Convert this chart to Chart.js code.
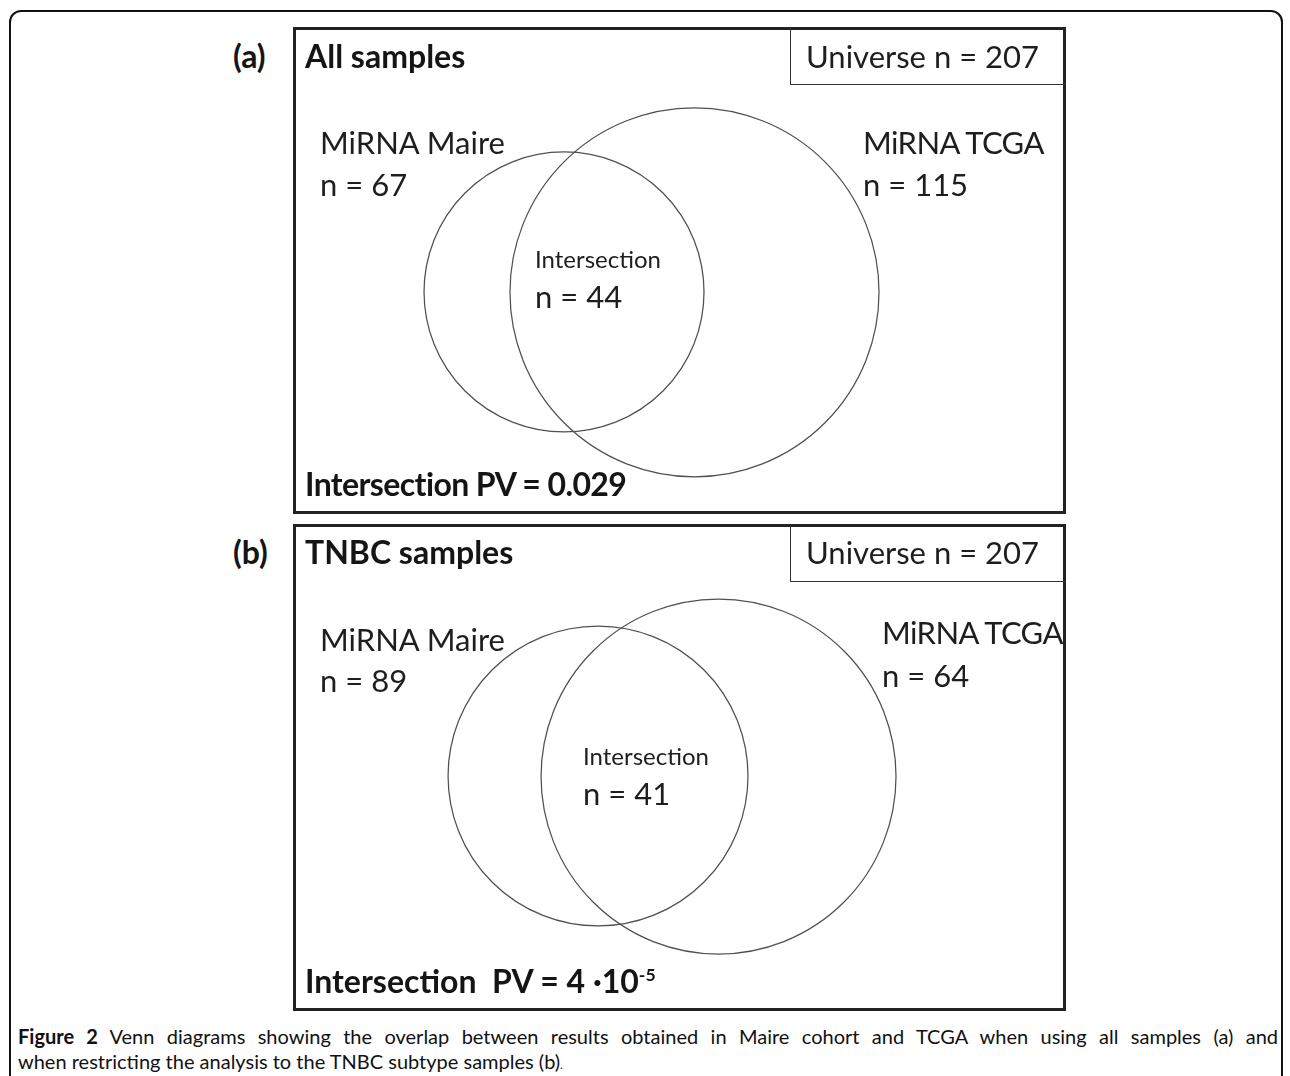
<!DOCTYPE html>
<html>
<head>
<meta charset="utf-8">
<script src="https://cdn.jsdelivr.net/npm/chart.js@4.4.1/dist/chart.umd.min.js"></script>
<style>
html,body{margin:0;padding:0;background:#fff;}
body{width:1290px;height:1076px;position:relative;overflow:hidden;font-family:Lato,"Open Sans",sans-serif;color:#1e1e1e;}
.frame{position:absolute;left:9px;top:10px;width:1274px;height:1120px;border:2px solid #111;border-radius:12px;box-sizing:border-box;}
.box{position:absolute;left:293px;width:773px;height:487px;border:3px solid #222;box-sizing:border-box;}
.uni{position:absolute;left:790px;width:276px;height:58px;border-left:1.5px solid #333;border-bottom:1.5px solid #333;box-sizing:border-box;}
.wrap{position:absolute;left:293px;width:773px;height:487px;}
.t{position:absolute;white-space:pre;line-height:1;}
.b{font-weight:700;color:#151515;}
.tight{letter-spacing:-0.6px;}
.cap{position:absolute;left:18px;width:1260px;font-size:20px;line-height:1;color:#111;white-space:nowrap;}
.cap1{text-align:justify;text-align-last:justify;white-space:normal;}
sup.s{font-size:0.55em;position:relative;top:-0.05em;}
</style>
</head>
<body>
<div class="frame"></div>
<script>
// ---- data ----
const panelTags = ["(a)", "(b)"];
const panelTitles = ["All samples", "TNBC samples"];
const universeSizes = [207, 207];
const setNames = ["MiRNA Maire", "MiRNA TCGA"];
const maireCounts = [67, 89];
const tcgaCounts = [115, 64];
const intersectionCounts = [44, 41];
const pValueMain = ["0.029", "4 \u00B710"];
const pValueExp = ["", "-5"];
// circle geometry in Venn units (panel width = 100 units)
const maireCircleX = [35.06, 39.46];
const maireCircleY = [34.28, 32.60];
const maireCircleR = [18.11, 19.40];
const tcgaCircleX = [51.94, 55.05];
const tcgaCircleY = [34.32, 32.67];
const tcgaCircleR = [23.87, 22.96];

// ---- layout (page pixels) ----
const layout = [
  {top: 27, head: 57, maire: [320, 143, 185], tcga: [863, 143, 185], inter: [535, 260, 297], pv: 485, pvGap: " "},
  {top: 524, head: 553, maire: [320, 640, 681], tcga: [882, 633, 676], inter: [583, 757, 794], pv: 982, pvGap: "  "}
];
const BOLD = 32, BIG = 31, SMALL = 24;

function addText(html, x, capCenterY, size, bold, extraClass) {
  const el = document.createElement('div');
  el.className = 't' + (bold ? ' b' : '') + (extraClass ? ' ' + extraClass : '');
  el.style.left = x + 'px';
  el.style.top = (capCenterY - 0.53 * size) + 'px';
  el.style.fontSize = size + 'px';
  el.innerHTML = html;
  document.body.appendChild(el);
  return el;
}

function circleRadius(ctx) {
  const s = ctx.chart.scales.x;
  const v = ctx.raw && ctx.raw.v;
  if (!s || v == null) return 0;
  const r = Math.abs(s.getPixelForValue(v) - s.getPixelForValue(0));
  return isFinite(r) ? r : 0;
}

layout.forEach((L, i) => {
  const box = document.createElement('div');
  box.className = 'box'; box.style.top = L.top + 'px';
  document.body.appendChild(box);
  const uni = document.createElement('div');
  uni.className = 'uni'; uni.style.top = L.top + 'px';
  document.body.appendChild(uni);

  const wrap = document.createElement('div');
  wrap.className = 'wrap'; wrap.style.top = L.top + 'px';
  const cv = document.createElement('canvas');
  wrap.appendChild(cv);
  document.body.appendChild(wrap);

  addText(panelTags[i], 233, L.head, BOLD, true);
  addText(panelTitles[i], 305, L.head, BOLD, true);
  addText('Universe n = ' + universeSizes[i], 806, L.head, BIG, false);
  addText(setNames[0], L.maire[0], L.maire[1], BIG, false);
  addText('n = ' + maireCounts[i], L.maire[0], L.maire[2], BIG, false);
  addText(setNames[1], L.tcga[0], L.tcga[1], BIG, false, 'tight');
  addText('n = ' + tcgaCounts[i], L.tcga[0], L.tcga[2], BIG, false);
  addText('Intersection', L.inter[0], L.inter[1], SMALL, false);
  addText('n = ' + intersectionCounts[i], L.inter[0], L.inter[2], BIG, false);
  addText('Intersection' + L.pvGap + 'PV = ' + pValueMain[i] +
          (pValueExp[i] ? '<sup class="s">' + pValueExp[i] + '</sup>' : ''), 305, L.pv, BOLD, true, i === 0 ? 'tight' : '');

  const rect = wrap.getBoundingClientRect();
  new Chart(cv, {
    type: 'scatter',
    data: {
      datasets: [
        {label: setNames[0], data: [{x: maireCircleX[i], y: maireCircleY[i], v: maireCircleR[i]}], clip: false},
        {label: setNames[1], data: [{x: tcgaCircleX[i], y: tcgaCircleY[i], v: tcgaCircleR[i]}], clip: false}
      ]
    },
    options: {
      responsive: true, maintainAspectRatio: false, animation: false, events: [],
      layout: {padding: 0, autoPadding: false},
      plugins: {legend: {display: false}, tooltip: {enabled: false}},
      scales: {
        x: {type: 'linear', display: false, min: 0, max: 100},
        y: {type: 'linear', display: false, min: 0, max: 100 * rect.height / rect.width, reverse: true}
      },
      elements: {point: {radius: circleRadius, hoverRadius: circleRadius, backgroundColor: 'rgba(0,0,0,0)', borderColor: '#505050', borderWidth: 1.25}}
    }
  });
});

// caption
const c1 = document.createElement('div');
c1.className = 'cap cap1'; c1.style.top = (1037 - 0.53 * 20) + 'px';
c1.innerHTML = '<b>Figure 2</b> Venn diagrams showing the overlap between results obtained in Maire cohort and TCGA when using all samples (a) and';
document.body.appendChild(c1);
const c2 = document.createElement('div');
c2.className = 'cap'; c2.style.top = (1062 - 0.53 * 20) + 'px';
c2.innerHTML = 'when restricting the analysis to the TNBC subtype samples (b)<span style="font-size:12px">.</span>';
document.body.appendChild(c2);
</script>
</body>
</html>
